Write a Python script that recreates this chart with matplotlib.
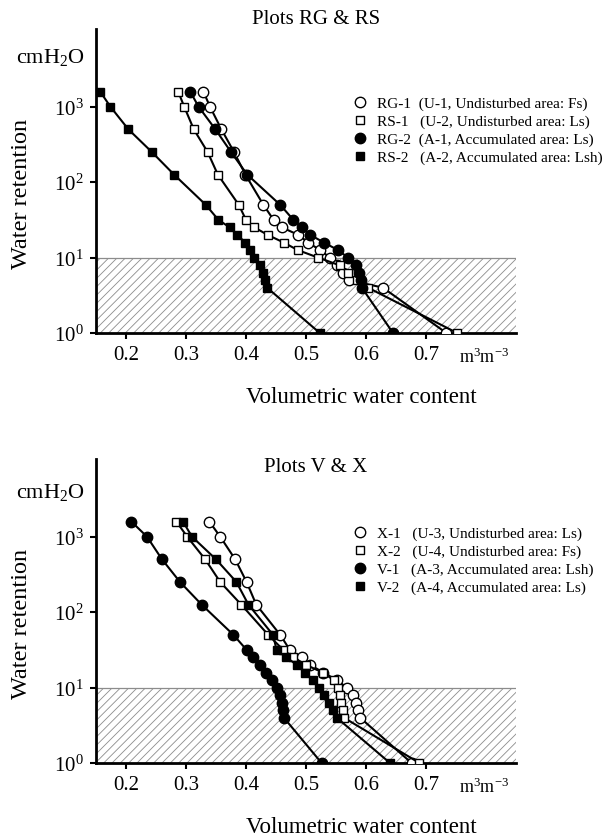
import matplotlib
matplotlib.use("Agg")
import matplotlib.pyplot as plt
from matplotlib.lines import Line2D
from matplotlib.ticker import FixedLocator, FixedFormatter, NullLocator

plt.rcParams["font.family"] = ["Liberation Serif", "DejaVu Serif"]
plt.rcParams["mathtext.fontset"] = "custom"
plt.rcParams["mathtext.rm"] = "Liberation Serif"
plt.rcParams["mathtext.it"] = "Liberation Serif:italic"
plt.rcParams["mathtext.default"] = "regular"
plt.rcParams["hatch.linewidth"] = 0.6

# suction steps (cmH2O), same for every curve
suction = [1585, 1000, 501, 251, 126, 50, 31.6, 25.1, 20, 15.8, 12.6, 10, 7.9, 6.3, 5, 4, 1]

# plots RG & RS, volumetric water content (m3 m-3)
rg1 = [0.329, 0.340, 0.359, 0.380, 0.399, 0.429, 0.446, 0.460, 0.487, 0.504, 0.523,
       0.540, 0.551, 0.562, 0.572, 0.628, 0.734]
rs1 = [0.287, 0.297, 0.313, 0.336, 0.353, 0.388, 0.400, 0.414, 0.436, 0.463, 0.486,
       0.520, 0.556, 0.570, 0.585, 0.603, 0.752]
rg2 = [0.307, 0.321, 0.349, 0.375, 0.402, 0.457, 0.479, 0.493, 0.507, 0.530, 0.553,
       0.570, 0.584, 0.588, 0.591, 0.593, 0.645]
rs2 = [0.157, 0.174, 0.204, 0.243, 0.280, 0.333, 0.354, 0.373, 0.385, 0.399, 0.407,
       0.414, 0.424, 0.429, 0.432, 0.435, 0.523]

# plots V & X
x1 = [0.339, 0.357, 0.382, 0.401, 0.417, 0.457, 0.473, 0.493, 0.507, 0.529, 0.551,
      0.568, 0.579, 0.584, 0.587, 0.590, 0.676]
x2 = [0.284, 0.302, 0.332, 0.357, 0.392, 0.437, 0.462, 0.479, 0.500, 0.528, 0.546,
      0.553, 0.556, 0.559, 0.562, 0.563, 0.689]
v1 = [0.209, 0.235, 0.260, 0.290, 0.326, 0.379, 0.401, 0.412, 0.424, 0.434, 0.443,
      0.451, 0.457, 0.460, 0.462, 0.463, 0.526]
v2 = [0.295, 0.310, 0.350, 0.384, 0.404, 0.445, 0.451, 0.467, 0.485, 0.498, 0.512,
      0.522, 0.530, 0.538, 0.545, 0.551, 0.640]

top_labels = ["RG-1  (U-1, Undisturbed area: Fs)",
              "RS-1   (U-2, Undisturbed area: Ls)",
              "RG-2  (A-1, Accumulated area: Ls)",
              "RS-2   (A-2, Accumulated area: Lsh)"]
bottom_labels = ["X-1   (U-3, Undisturbed area: Ls)",
                 "X-2   (U-4, Undisturbed area: Fs)",
                 "V-1   (A-3, Accumulated area: Lsh)",
                 "V-2   (A-4, Accumulated area: Ls)"]

xticks = [0.2, 0.3, 0.4, 0.5, 0.6, 0.7]
yticks = [1, 10, 100, 1000]
ytick_labels = [r"$10^{0}$", r"$10^{1}$", r"$10^{2}$", r"$10^{3}$"]

W, H = 614, 837
STYLES = [dict(marker="o", mfc="white", ms=7.5),
          dict(marker="s", mfc="white", ms=6.2),
          dict(marker="o", mfc="black", ms=7.5),
          dict(marker="s", mfc="black", ms=6.2)]


def fx(px):
    return px / W


def fy(py):
    return 1 - py / H


def draw_panel(ax, series, labels, title, offset, title_y, unit_y):
    # hatched band between 10^0 and 10^1
    ax.axhspan(1, 10, facecolor="white", edgecolor="#8c8c8c", hatch="////",
               linewidth=0, zorder=0)
    ax.axhline(10, color="#8c8c8c", lw=0.9, zorder=0.5)
    for vals, st in zip(series, STYLES):
        ax.plot(vals, suction, color="black", lw=1.5, mec="black", mew=1.0,
                zorder=3, **st)
    ax.set_yscale("log")
    ax.set_xlim(0.15, 0.85)
    ax.set_ylim(1, 10 ** 4.03)
    ax.xaxis.set_major_locator(FixedLocator(xticks))
    ax.set_xticklabels([f"{t:.1f}" for t in xticks])
    ax.yaxis.set_major_locator(FixedLocator(yticks))
    ax.yaxis.set_major_formatter(FixedFormatter(ytick_labels))
    ax.yaxis.set_minor_locator(NullLocator())
    ax.spines[["top", "right"]].set_visible(False)
    for s in ("left", "bottom"):
        ax.spines[s].set_linewidth(2.0)
    ax.tick_params(length=4, width=1.5, labelsize=15, pad=5)

    handles = [Line2D([], [], ls="none", color="black", mec="black", mew=1.0, **st)
               for st in STYLES]
    ax.legend(handles, labels, loc="upper left", frameon=False, fontsize=11,
              bbox_to_anchor=(fx(354), fy(97.5 + offset)), bbox_transform=ax.figure.transFigure,
              borderpad=0, borderaxespad=0, handlelength=0.8, handletextpad=0.7,
              labelspacing=0.27)

    fig = ax.figure
    fig.text(fx(316), fy(title_y), title, ha="center", va="center", fontsize=15)
    fig.text(fx(50), fy(unit_y), r"cmH$_2$O", ha="center", va="center", fontsize=16)
    fig.text(fx(22), fy(194 + offset), "Water retention", rotation=90,
             ha="center", va="center", fontsize=17.5)
    fig.text(fx(484), fy(357 + offset), r"m$^3$m$^{-3}$", ha="center", va="center",
             fontsize=13)
    fig.text(fx(361), fy(398 + offset), "Volumetric water content", ha="center",
             va="center", fontsize=16.5)


fig = plt.figure(figsize=(W / 100, H / 100), dpi=100)
ax_top = fig.add_axes([fx(96), fy(334), fx(516) - fx(96), 304 / H])
ax_bot = fig.add_axes([fx(96), fy(764), fx(516) - fx(96), 304 / H])

draw_panel(ax_top, [rg1, rs1, rg2, rs2], top_labels, "Plots RG & RS", 0, 20, 58)
draw_panel(ax_bot, [x1, x2, v1, v2], bottom_labels, "Plots V & X", 430, 468, 493)

fig.savefig("out.png", dpi=100)
